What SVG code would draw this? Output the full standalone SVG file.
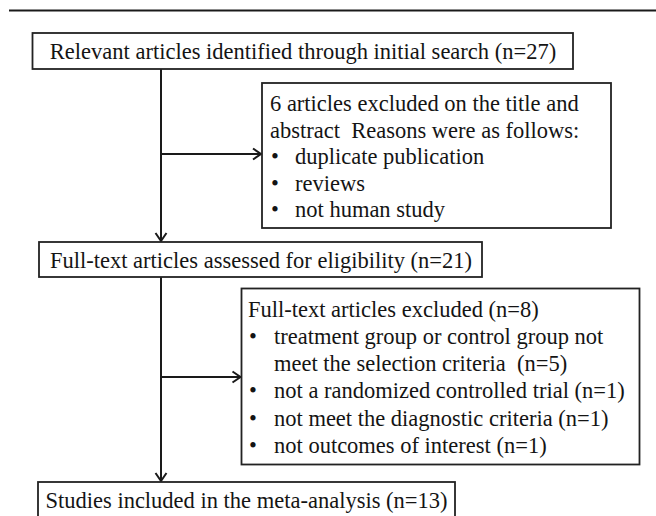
<svg xmlns="http://www.w3.org/2000/svg" width="656" height="516" viewBox="0 0 656 516">
<style>
.box{fill:#fff;stroke:#222;stroke-width:1.8}
.t{font-family:"Liberation Serif","Times New Roman",serif;font-size:22.5px;fill:#141414;white-space:pre}
.c{text-anchor:middle}
.ln{fill:none;stroke:#1a1a1a;stroke-width:2}
</style>
<defs>
<marker id="arr" markerUnits="userSpaceOnUse" markerWidth="12" markerHeight="14" refX="10" refY="7" orient="auto">
<path d="M2,1.5 L10,7 L2,12.5" fill="none" stroke="#1a1a1a" stroke-width="2"/>
</marker>
</defs>
<line x1="9" y1="10.5" x2="656" y2="10.5" stroke="#1a1a1a" stroke-width="2.2"/>
<g id="connectors">
<line class="ln" x1="161" y1="69" x2="161" y2="241" marker-end="url(#arr)"/>
<line class="ln" x1="161" y1="154" x2="261" y2="154" marker-end="url(#arr)"/>
<line class="ln" x1="161" y1="277" x2="161" y2="481" marker-end="url(#arr)"/>
<line class="ln" x1="161" y1="377" x2="240.5" y2="377" marker-end="url(#arr)"/>
</g>
<g id="n1">
<rect class="box" x="32.5" y="33" width="540.5" height="36"/>
<text class="t c" x="303" y="59">Relevant articles identified through initial search (n=27)</text>
</g>
<g id="n2">
<rect class="box" x="262" y="83" width="349" height="145"/>
<text class="t" x="270" y="111">6 articles excluded on the title and</text>
<text class="t" x="270" y="137.5" xml:space="preserve">abstract  Reasons were as follows:</text>
<text class="t" x="271" y="164">•</text><text class="t" x="295" y="164">duplicate publication</text>
<text class="t" x="271" y="190.5">•</text><text class="t" x="295" y="190.5">reviews</text>
<text class="t" x="271" y="217">•</text><text class="t" x="295" y="217">not human study</text>
</g>
<g id="n3">
<rect class="box" x="39" y="242" width="443" height="35"/>
<text class="t c" x="261" y="268">Full-text articles assessed for eligibility (n=21)</text>
</g>
<g id="n4">
<rect class="box" x="241.5" y="288.5" width="398" height="176"/>
<text class="t" x="248" y="317">Full-text articles excluded (n=8)</text>
<text class="t" x="249" y="344">•</text><text class="t" x="274" y="344">treatment group or control group not</text>
<text class="t" x="274" y="371" xml:space="preserve">meet the selection criteria  (n=5)</text>
<text class="t" x="249" y="398">•</text><text class="t" x="274" y="398">not a randomized controlled trial (n=1)</text>
<text class="t" x="249" y="426">•</text><text class="t" x="274" y="426">not meet the diagnostic criteria (n=1)</text>
<text class="t" x="249" y="453">•</text><text class="t" x="274" y="453">not outcomes of interest (n=1)</text>
</g>
<g id="n5">
<rect class="box" x="38" y="482" width="417" height="44"/>
<text class="t c" x="246.5" y="508">Studies included in the meta-analysis (n=13)</text>
</g>
</svg>
